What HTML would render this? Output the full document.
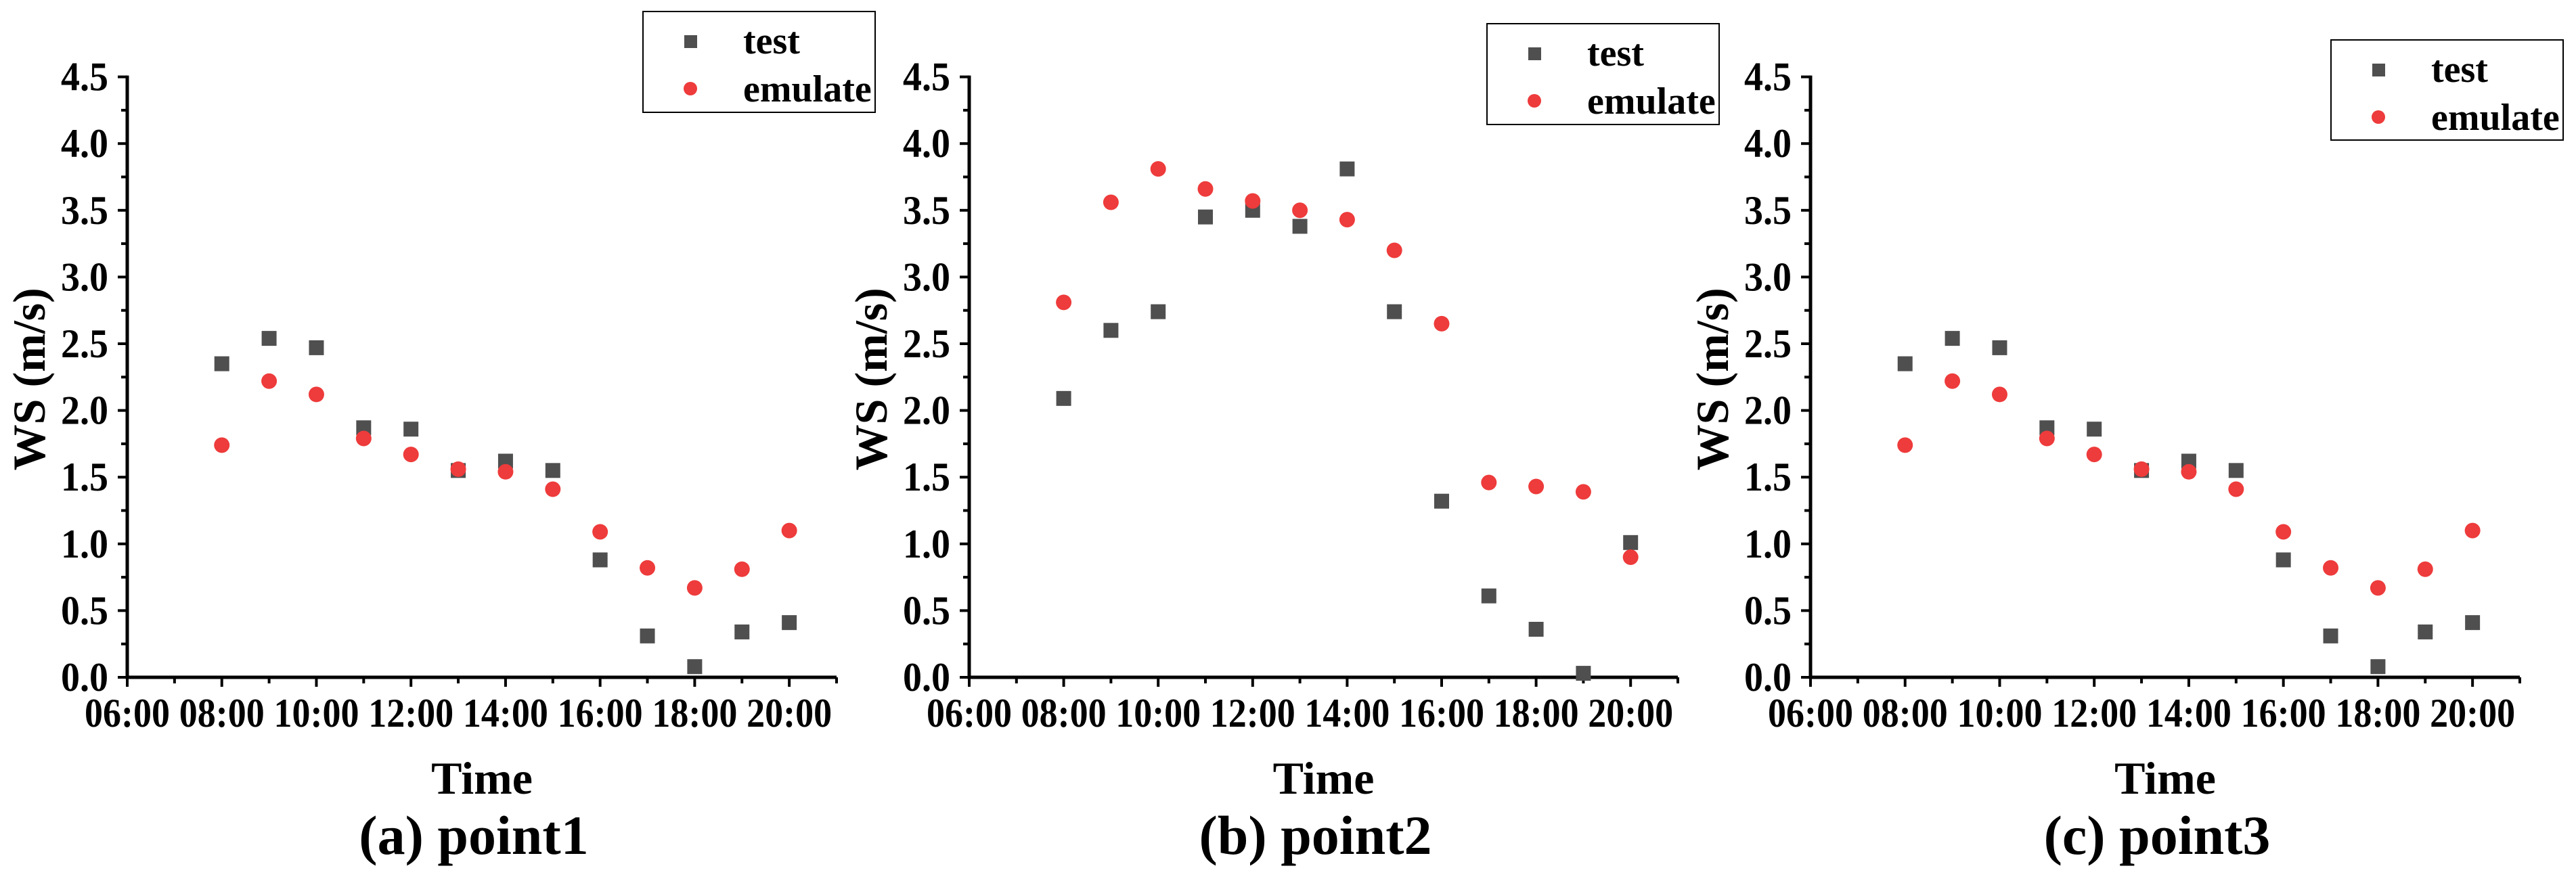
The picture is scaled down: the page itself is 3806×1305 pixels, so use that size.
<!DOCTYPE html>
<html><head><meta charset="utf-8"><style>
html,body{margin:0;padding:0;background:#fff;}
svg{display:block;}
svg text{font-family:"Liberation Serif","Times New Roman",serif;font-weight:bold;}
</style></head><body>
<svg id="chart" width="3806" height="1305" viewBox="0 0 3806 1305" xmlns="http://www.w3.org/2000/svg"></svg>
<script>
const hours = [8,9,10,11,12,13,14,15,16,17,18,19,20];
const xTickLabels = ["06:00","08:00","10:00","12:00","14:00","16:00","18:00","20:00"];
const yTickLabels = ["0.0","0.5","1.0","1.5","2.0","2.5","3.0","3.5","4.0","4.5"];
const testA = [2.35,2.54,2.47,1.87,1.86,1.55,1.62,1.55,0.88,0.31,0.08,0.34,0.41];
const emulateA = [1.74,2.22,2.12,1.79,1.67,1.56,1.54,1.41,1.09,0.82,0.67,0.81,1.10];
const testB = [2.09,2.60,2.74,3.45,3.50,3.38,3.81,2.74,1.32,0.61,0.36,0.03,1.01];
const emulateB = [2.81,3.56,3.81,3.66,3.57,3.50,3.43,3.20,2.65,1.46,1.43,1.39,0.90];
const testC = [2.35,2.54,2.47,1.87,1.86,1.55,1.62,1.55,0.88,0.31,0.08,0.34,0.41];
const emulateC = [1.74,2.22,2.12,1.79,1.67,1.56,1.54,1.41,1.09,0.82,0.67,0.81,1.10];
const panelTitles = ["(a) point1","(b) point2","(c) point3"];

const NS="http://www.w3.org/2000/svg";
const svg=document.getElementById('chart');
function mk(tag,attrs,parent,text){const e=document.createElementNS(NS,tag);for(const k in attrs)e.setAttribute(k,attrs[k]);if(text!==undefined)e.textContent=text;(parent||svg).appendChild(e);return e;}

const panels=[
 {x0:188,x1:1236,leg:[950,17,343,149],t:testA,e:emulateA,key:'a'},
 {x0:1432,x1:2479,leg:[2197,35,343,149],t:testB,e:emulateB,key:'b'},
 {x0:2675,x1:3723,leg:[3444,59,343,148],t:testC,e:emulateC,key:'c'}
];
const yBase=1001, yTop=113.6;
panels.forEach((p,pi)=>{
  const g=mk('g',{});
  
  
  const sx=h=>p.x0+(h-6)*(p.x1-p.x0)/15;
  const sy=v=>yBase-v*(yBase-yTop)/4.5;
  const ax=mk('line',{x1:p.x0,y1:yBase,x2:p.x1,y2:yBase,stroke:'#000','stroke-width':5},g);
  
  
  const ay=mk('line',{x1:p.x0,y1:yBase+2.5,x2:p.x0,y2:yTop-2,stroke:'#000','stroke-width':5},g);
  
  
  for(let h=6;h<=21;h++){
    const major=(h%2===0);
    mk('line',{x1:sx(h),y1:yBase,x2:sx(h),y2:yBase+(major?14:9),stroke:'#000','stroke-width':4},g);
  }
  xTickLabels.forEach((lab,i)=>{
    const t=mk('text',{x:sx(6+2*i)-63,y:1074,'font-size':60,textLength:126,lengthAdjust:'spacingAndGlyphs'},g,lab);
    
    
  });
  for(let k=0;k<=18;k++){
    const v=k*0.25, major=(k%2===0);
    mk('line',{x1:p.x0,y1:sy(v),x2:p.x0-(major?14:9),y2:sy(v),stroke:'#000','stroke-width':4},g);
  }
  yTickLabels.forEach((lab,i)=>{
    const t=mk('text',{x:p.x0-98,y:sy(i*0.5)+20,'font-size':60,textLength:70,lengthAdjust:'spacingAndGlyphs'},g,lab);
    
    
  });
  const yt=mk('text',{x:0,y:0,'text-anchor':'middle','font-size':68,transform:`translate(${p.x0-122},${(yBase+yTop)/2+3}) rotate(-90)`},g,'WS (m/s)');
  
  
  const xt=mk('text',{x:(p.x0+p.x1)/2,y:1173,'text-anchor':'middle','font-size':68},g,'Time');
  
  
  const pt=mk('text',{x:(p.x0+p.x1)/2-12,y:1262,'text-anchor':'middle','font-size':82},g,panelTitles[pi]);
  
  
  hours.forEach((h,i)=>{
    const r=mk('rect',{x:sx(h)-11,y:sy(p.t[i])-11,width:22,height:22,fill:'#4f4f4f'},g);
    
    
  });
  hours.forEach((h,i)=>{
    const c=mk('circle',{cx:sx(h),cy:sy(p.e[i]),r:11.5,fill:'#ee3b3b'},g);
    
    
  });
  const [lx,ly,lw,lh]=p.leg;
  const lg=mk('g',{},g);
  
  
  mk('rect',{x:lx,y:ly,width:lw,height:lh,fill:'#fff',stroke:'#000','stroke-width':2},lg);
  mk('rect',{x:lx+61,y:ly+35,width:19,height:19,fill:'#4f4f4f'},lg);
  mk('circle',{cx:lx+70,cy:ly+114,r:10,fill:'#ee3b3b'},lg);
  const l1=mk('text',{x:lx+148,y:ly+62,'font-size':56},lg,'test');
  
  
  const l2=mk('text',{x:lx+148,y:ly+133,'font-size':56},lg,'emulate');
  
  
});
</script>
</body></html>
